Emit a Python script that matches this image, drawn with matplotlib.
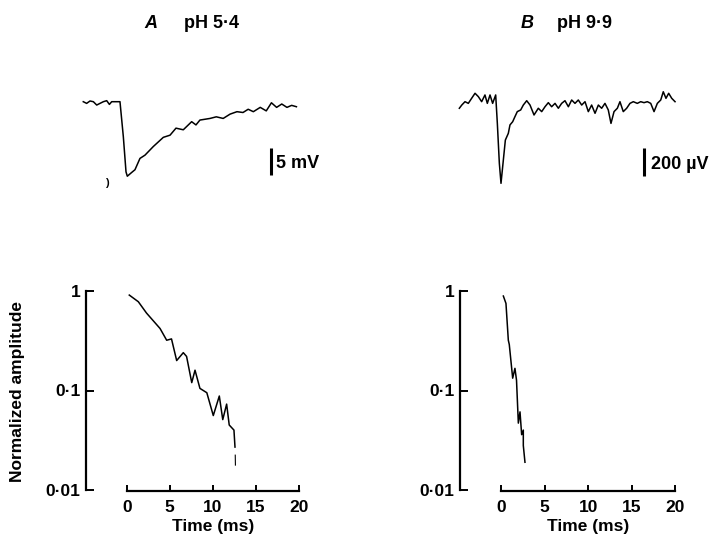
import matplotlib
matplotlib.use("Agg")
import matplotlib.pyplot as plt
import numpy as np

plt.rcParams['font.family'] = ['Liberation Sans', 'DejaVu Sans']
plt.rcParams['font.weight'] = 'bold'

# ---------------- data ----------------
# Top traces (time in ms, potential relative to baseline)
traceA_t = [-5.04, -4.65, -4.26, -3.87, -3.48, -3.10, -2.71, -2.32, -2.01, -1.74, -0.78,
            -0.39, -0.08, 0.07, 0.58, 0.96, 1.54, 2.12, 3.09, 4.25, 5.03, 5.72, 6.57,
            7.54, 8.04, 8.50, 9.67, 10.4, 11.2, 12.0, 12.8, 13.5, 14.1, 14.7, 15.5,
            16.2, 16.8, 17.4, 18.0, 18.6, 19.15, 19.7]
traceA_mV = [0.0, -0.31, 0.13, 0.0, -0.62, -0.31, 0.0, 0.19, -0.5, 0.0, 0.0,
             -6.5, -13.0, -13.8, -13.1, -12.6, -10.5, -9.9, -8.3, -6.6, -6.2, -4.9, -5.2,
             -3.7, -4.3, -3.4, -3.1, -2.8, -3.1, -2.3, -1.85, -2.0, -1.4, -1.85, -1.05,
             -1.7, -0.2, -1.05, -0.43, -1.05, -0.68, -0.93]

traceB_t = [-4.78, -4.5, -4.13, -3.75, -3.37, -2.98, -2.6, -2.22, -1.84, -1.57, -1.26,
            -0.96, -0.61, -0.42, -0.19, 0.0, 0.27, 0.5, 0.84, 1.03, 1.34, 1.6, 1.87,
            2.26, 2.56, 2.95, 3.33, 3.79, 4.28, 4.67, 5.05, 5.43, 5.81, 6.2, 6.58,
            6.96, 7.34, 7.73, 8.11, 8.49, 8.87, 9.26, 9.64, 10.02, 10.4, 10.79, 11.17,
            11.55, 11.93, 12.31, 12.62, 12.97, 13.35, 13.65, 14.03, 14.42, 14.8, 15.18,
            15.64, 16.03, 16.41, 16.79, 17.18, 17.56, 17.94, 18.33, 18.62, 18.93, 19.24,
            19.59, 19.97]
traceB_uV = [-59, -36, -12, -24, 12, 48, 24, -12, 36, -24, 36,
             -24, 36, -167, -452, -595, -428, -286, -238, -178, -155, -119, -83,
             -71, -36, -5, -36, -107, -59, -83, -48, -19, -48, -24, -59,
             -24, -5, -48, 0, -24, 0, -36, -12, -83, -36, -95, -36,
             -59, -24, -71, -167, -83, -59, -12, -83, -59, -24, -12,
             -24, -12, -19, -12, -24, -83, -24, 0, 59, 12, 48,
             12, -12]

# Bottom: normalized amplitude decay (log scale)
decayA_t = [0.3, 1.35, 2.3, 3.87, 4.64, 5.2, 5.8, 6.57, 6.95, 7.55, 7.93, 8.5, 9.3,
            10.05, 10.75, 11.15, 11.6, 11.9, 12.45, 12.57]
decayA_amp = [0.91, 0.78, 0.60, 0.42, 0.32, 0.33, 0.20, 0.24, 0.22, 0.12, 0.16, 0.105,
              0.095, 0.056, 0.088, 0.051, 0.073, 0.045, 0.040, 0.027]
decayA_tail_t = [12.6, 12.62]
decayA_tail_amp = [0.0224, 0.0178]

decayB_t = [0.27, 0.57, 0.84, 0.95, 1.34, 1.6, 1.78, 1.99, 2.18, 2.37, 2.56, 2.56, 2.75]
decayB_amp = [0.89, 0.75, 0.32, 0.29, 0.133, 0.167, 0.127, 0.047, 0.061, 0.036, 0.040,
              0.028, 0.019]

xticks = [0, 5, 10, 15, 20]
yticks = [1, 0.1, 0.01]
ytick_labels = ['1', '0·1', '0·01']

# ---------------- layout ----------------
W, H = 715, 539
fig = plt.figure(figsize=(W / 100, H / 100), dpi=100)

def ax_px(x0, y0, x1, y1):
    return fig.add_axes([x0 / W, 1 - y1 / H, (x1 - x0) / W, (y1 - y0) / H])

FS = 12.5
LW = 1.1

def bottom_panel(x0, x1, t, a, tail=None):
    ax = ax_px(x0, 291, x1, 490)
    ax.plot(t, a, color='black', lw=LW)
    if tail is not None:
        ax.plot(tail[0], tail[1], color='black', lw=0.8)
    ax.set_yscale('log')
    ax.set_ylim(0.01, 1)
    ax.set_xlim(0, 20)
    ax.set_yticks(yticks)
    ax.set_yticklabels(ytick_labels)
    ax.yaxis.set_minor_locator(matplotlib.ticker.NullLocator())
    ax.set_xticks(xticks)
    ax.set_xticklabels([str(v) for v in xticks])
    for s in ['top', 'right']:
        ax.spines[s].set_visible(False)
    ax.spines['left'].set_position(('outward', 29.5))
    ax.spines['bottom'].set_position(('outward', 1.0))
    for s in ['left', 'bottom']:
        ax.spines[s].set_linewidth(1.6)
    ax.tick_params(axis='y', direction='in', length=6, width=1.4, pad=4, labelsize=FS)
    ax.tick_params(axis='x', direction='in', length=4.5, width=1.4, pad=6, labelsize=FS)
    for lab in ax.get_xticklabels() + ax.get_yticklabels():
        lab.set_fontweight('bold')
    ax.set_xlabel('Time (ms)', fontsize=FS, fontweight='bold', labelpad=3)
    ax.patch.set_visible(False)
    return ax

axA = bottom_panel(126.7, 299.0, decayA_t, decayA_amp, (decayA_tail_t, decayA_tail_amp))
axB = bottom_panel(501.0, 675.3, decayB_t, decayB_amp)

fig.text(18 / W, 1 - 392 / H, 'Normalized amplitude', rotation=90, ha='center',
         va='center', fontsize=FS, fontweight='bold')

# ---------------- top traces ----------------
def top_panel(x_zero, ppm, t, v, base_y, upp, bar_t, bar_v0, bar_len, label, lab_t, lab_v):
    tmin, tmax = -6, 24
    ax = ax_px(x_zero + tmin * ppm, 60, x_zero + tmax * ppm, 200)
    ax.set_xlim(tmin, tmax)
    ax.set_ylim(-(200 - base_y) * upp, (base_y - 60) * upp)
    ax.plot(t, v, color='black', lw=LW)
    ax.plot([bar_t, bar_t], [bar_v0, bar_v0 - bar_len], color='black', lw=2.2,
            solid_capstyle='butt')
    ax.text(lab_t, lab_v, label, ha='left', va='center', fontsize=13, fontweight='bold')
    ax.axis('off')
    return ax

ppmA = (299.0 - 126.7) / 20
topA = top_panel(126.7, ppmA, traceA_t, traceA_mV, 101.7, 1 / 5.4,
                 16.8, -8.57, 5, '5 mV', 17.3, -11.4)
topA.text(-2.3, -15.1, ')', ha='center', va='center', fontsize=8, fontweight='bold')

ppmB = (675.3 - 501.0) / 20
topB = top_panel(501.0, ppmB, traceB_t, traceB_uV, 100.0, 7.14,
                 16.41, -345, 200, '200 \u00b5V', 17.2, -460)

# ---------------- titles ----------------
fig.text(151 / W, 1 - 24 / H, 'A', ha='center', va='center', fontsize=13,
         fontweight='bold', fontstyle='italic')
fig.text(211.5 / W, 1 - 24 / H, 'pH 5·4', ha='center', va='center', fontsize=13,
         fontweight='bold')
fig.text(527.5 / W, 1 - 24 / H, 'B', ha='center', va='center', fontsize=13,
         fontweight='bold', fontstyle='italic')
fig.text(584.5 / W, 1 - 24 / H, 'pH 9·9', ha='center', va='center', fontsize=13,
         fontweight='bold')

fig.savefig('out.png', dpi=100)
